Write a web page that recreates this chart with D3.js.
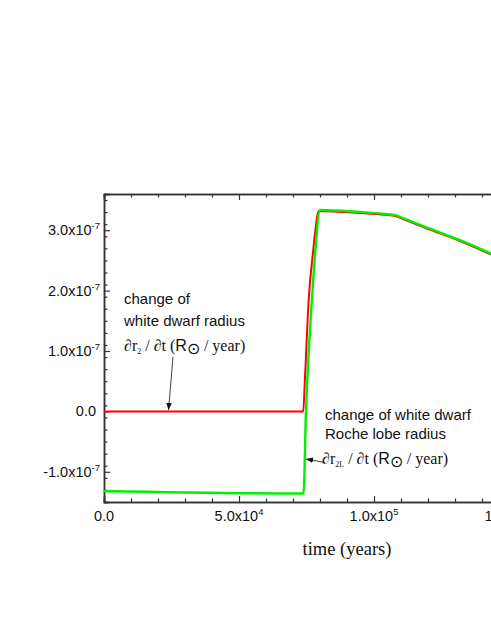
<!DOCTYPE html>
<html>
<head>
<meta charset="utf-8">
<script src="https://cdn.jsdelivr.net/npm/d3@7"></script>
<style>
  body { margin: 0; background: #fff; }
  svg { display: block; }
</style>
</head>
<body>
<div id="chart"></div>
<script>
// Data (time in years, rate in R_sun / year)
const timeRed = [0, 73800, 74400, 75800, 77500, 78300, 79400, 95000, 104000, 108000, 111000, 120700, 131900, 143000, 150000];
const rateRed = [0, 0, 0.52e-7, 1.84e-7, 2.67e-7, 3.0e-7, 3.32e-7, 3.285e-7, 3.255e-7, 3.235e-7, 3.18e-7, 3.01e-7, 2.82e-7, 2.605e-7, 2.465e-7];

const timeGreen = [0, 73900, 74800, 75300, 77000, 78300, 80000, 95000, 104000, 108000, 111000, 120700, 131900, 143000, 150000];
const rateGreen = [-1.317e-7, -1.36e-7, 0, 0.52e-7, 1.84e-7, 2.67e-7, 3.335e-7, 3.30e-7, 3.27e-7, 3.25e-7, 3.195e-7, 3.025e-7, 2.835e-7, 2.62e-7, 2.48e-7];

const xMajorTicks = [0, 50000, 100000, 150000];
const xTickLabels = [["0.0", ""], ["5.0x10", "4"], ["1.0x10", "5"], ["1.5x10", "5"]];
const yMajorTicks = [-1e-7, 0, 1e-7, 2e-7, 3e-7];
const yTickLabels = [["-1.0x10", "-7"], ["0.0", ""], ["1.0x10", "-7"], ["2.0x10", "-7"], ["3.0x10", "-7"]];

const width = 491;
const height = 635;
const margin = { top: 194, left: 104, bottom: 133 };
const plotH = height - margin.top - margin.bottom;

const svg = d3
  .select("#chart")
  .append("svg")
  .attr("width", width)
  .attr("height", height);

// Scales
const x = d3.scaleLinear().domain([0, 160000]).range([margin.left, margin.left + 432]);
const y = d3.scaleLinear().domain([-1.5e-7, 3.6e-7]).range([margin.top + plotH, margin.top]);

// Clip for the curves
svg.append("clipPath").attr("id", "clip")
  .append("rect")
  .attr("x", margin.left).attr("y", margin.top)
  .attr("width", width - margin.left).attr("height", plotH);

// Axes - all ticks point inward
const axisColor = "#333";
const xMinor = d3.range(0, 160001, 10000).filter((d) => d % 50000 !== 0);
const yMinor = d3.range(-15, 36, 2).map((d) => d * 1e-8).filter((d) => Math.abs(Math.round(d * 1e9)) % 100 !== 0);

const bottomAxis = d3.axisBottom(x).tickValues(xMajorTicks).tickSize(-6).tickFormat("");
const bottomMinor = d3.axisBottom(x).tickValues(xMinor).tickSize(-3.5).tickFormat("");
const topAxis = d3.axisTop(x).tickValues(xMajorTicks).tickSize(-6).tickFormat("");
const topMinor = d3.axisTop(x).tickValues(xMinor).tickSize(-3.5).tickFormat("");
const leftAxis = d3.axisLeft(y).tickValues(yMajorTicks).tickSize(-6).tickFormat("");
const leftMinor = d3.axisLeft(y).tickValues(yMinor).tickSize(-3.5).tickFormat("");

function styleAxis(g) {
  g.selectAll("path").attr("stroke", axisColor).attr("stroke-width", 1.5);
  g.selectAll("line").attr("stroke", axisColor).attr("stroke-width", 1.2);
}

svg.append("g").attr("transform", `translate(0,${y.range()[0]})`).call(bottomMinor).call(styleAxis);
svg.append("g").attr("transform", `translate(0,${y.range()[0]})`).call(bottomAxis).call(styleAxis);
svg.append("g").attr("transform", `translate(0,${margin.top})`).call(topMinor).call(styleAxis);
svg.append("g").attr("transform", `translate(0,${margin.top})`).call(topAxis).call(styleAxis);
svg.append("g").attr("transform", `translate(${margin.left},0)`).call(leftMinor).call(styleAxis);
svg.append("g").attr("transform", `translate(${margin.left},0)`).call(leftAxis).call(styleAxis);

// Tick labels with superscript exponents
const sans = "'Liberation Sans', Arial, sans-serif";
const serif = "'Liberation Serif', 'Times New Roman', serif";

xMajorTicks.forEach((t, i) => {
  const txt = svg.append("text")
    .attr("x", x(t))
    .attr("y", y.range()[0] + 19)
    .attr("text-anchor", "middle")
    .attr("font-family", sans)
    .attr("font-size", 14.5)
    .attr("fill", "#111");
  txt.append("tspan").text(xTickLabels[i][0]);
  if (xTickLabels[i][1]) {
    txt.append("tspan").attr("dy", -6).attr("font-size", 9.5).text(xTickLabels[i][1]);
  }
});

yMajorTicks.forEach((v, i) => {
  const hasExp = yTickLabels[i][1] !== "";
  const txt = svg.append("text")
    .attr("x", margin.left - (hasExp ? 4 : 8))
    .attr("y", y(v) + 5)
    .attr("text-anchor", "end")
    .attr("font-family", sans)
    .attr("font-size", 14.5)
    .attr("fill", "#111");
  txt.append("tspan").text(yTickLabels[i][0]);
  if (hasExp) {
    txt.append("tspan").attr("dy", -6).attr("font-size", 9.5).text(yTickLabels[i][1]);
  }
});

// Axis title
svg.append("text")
  .attr("x", 347)
  .attr("y", 555)
  .attr("text-anchor", "middle")
  .attr("font-family", serif)
  .attr("font-size", 18.5)
  .attr("fill", "#111")
  .text("time (years)");

// Curves
const line = d3.line().x((d) => x(d[0])).y((d) => y(d[1])).curve(d3.curveMonotoneX);
const redData = d3.zip(timeRed, rateRed);
const greenData = d3.zip(timeGreen, rateGreen);

svg.append("path")
  .datum(redData)
  .attr("clip-path", "url(#clip)")
  .attr("fill", "none")
  .attr("stroke", "#ff0000")
  .attr("stroke-width", 2)
  .attr("stroke-linejoin", "round")
  .attr("d", line);

svg.append("path")
  .datum(greenData)
  .attr("clip-path", "url(#clip)")
  .attr("fill", "none")
  .attr("stroke", "#00f000")
  .attr("stroke-width", 2.4)
  .attr("stroke-linejoin", "round")
  .attr("d", line);

// Arrow marker
svg.append("defs").append("marker")
  .attr("id", "arrow")
  .attr("viewBox", "0 0 10 10")
  .attr("refX", 10).attr("refY", 5)
  .attr("markerWidth", 7).attr("markerHeight", 7)
  .attr("markerUnits", "userSpaceOnUse")
  .attr("orient", "auto")
  .append("path")
  .attr("d", "M0,1 L10,5 L0,9 Z")
  .attr("fill", "#111");

// Annotation: white dwarf radius
const note1 = svg.append("g").attr("font-family", sans).attr("font-size", 15).attr("fill", "#111");
note1.append("text").attr("x", 124).attr("y", 304).text("change of");
note1.append("text").attr("x", 124).attr("y", 326).text("white dwarf radius");
const eq1 = svg.append("text").attr("x", 124).attr("y", 351).attr("font-family", serif).attr("font-size", 16).attr("fill", "#111");
eq1.append("tspan").text("\u2202r");
eq1.append("tspan").attr("dy", 3).attr("font-size", 8).text("2");
eq1.append("tspan").attr("dy", -3).text(" / \u2202t (");
eq1.append("tspan").attr("font-family", sans).text("R");
eq1.append("tspan").attr("font-family", sans).attr("dy", 3).text("\u2299");
eq1.append("tspan").attr("dy", -3).text(" / year)");

svg.append("line")
  .attr("x1", 173).attr("y1", 357)
  .attr("x2", 168.5).attr("y2", 410)
  .attr("stroke", "#111").attr("stroke-width", 0.8)
  .attr("marker-end", "url(#arrow)");

// Annotation: Roche lobe radius
const note2 = svg.append("g").attr("font-family", sans).attr("font-size", 15).attr("fill", "#111");
note2.append("text").attr("x", 325).attr("y", 420).text("change of white dwarf");
note2.append("text").attr("x", 325).attr("y", 439).text("Roche lobe radius");
const eq2 = svg.append("text").attr("x", 322).attr("y", 464).attr("font-family", serif).attr("font-size", 16).attr("fill", "#111");
eq2.append("tspan").text("\u2202r");
eq2.append("tspan").attr("dy", 3).attr("font-size", 8).text("2L");
eq2.append("tspan").attr("dy", -3).text(" / \u2202t (");
eq2.append("tspan").attr("font-family", sans).text("R");
eq2.append("tspan").attr("font-family", sans).attr("dy", 3).text("\u2299");
eq2.append("tspan").attr("dy", -3).text(" / year)");

svg.append("line")
  .attr("x1", 325).attr("y1", 462.5)
  .attr("x2", 306).attr("y2", 459)
  .attr("stroke", "#111").attr("stroke-width", 0.8)
  .attr("marker-end", "url(#arrow)");
</script>
</body>
</html>
